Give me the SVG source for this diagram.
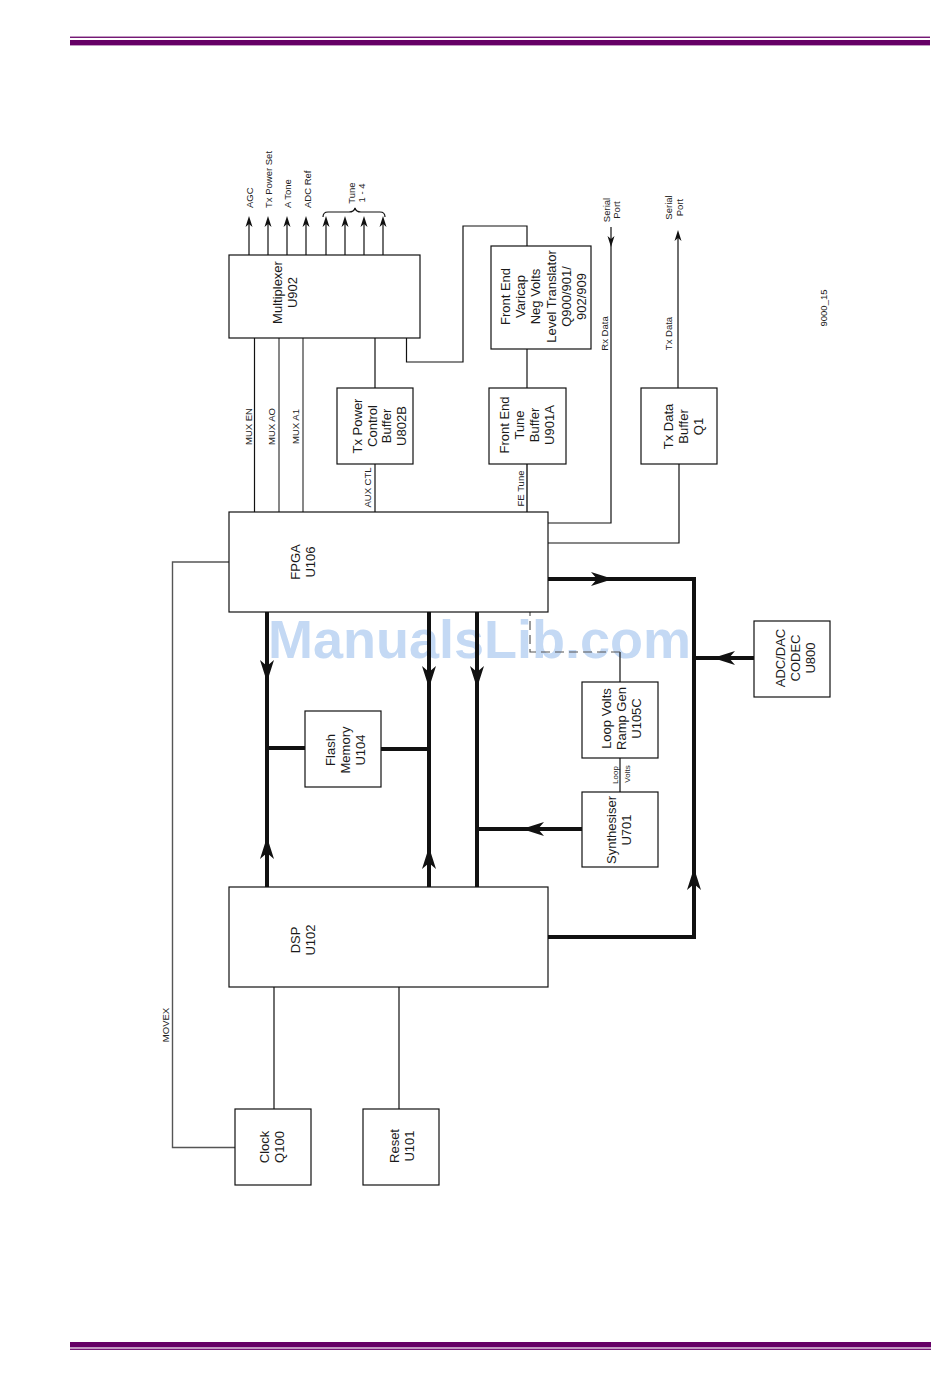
<svg xmlns="http://www.w3.org/2000/svg" xmlns:xlink="http://www.w3.org/1999/xlink" width="950" height="1388" viewBox="0 0 950 1388">
<style>
.box{fill:#fff;stroke:#111;stroke-width:1.2}
.t{font-family:"Liberation Sans",Arial,sans-serif;font-size:13px;fill:#1a1a1a}
.s{font-family:"Liberation Sans",Arial,sans-serif;font-size:9.5px;fill:#222}
.xs{font-family:"Liberation Sans",Arial,sans-serif;font-size:8px;fill:#222}
.thin{fill:none;stroke:#111;stroke-width:1.2}
.gray{fill:none;stroke:#555;stroke-width:1.4}
.thick{fill:none;stroke:#111;stroke-width:4}
.dash{fill:none;stroke:#555;stroke-width:1.2;stroke-dasharray:9,5}
.ah{fill:#111}
</style>
<defs>
<path id="big" d="M0,0 L-7,-22 L0,-16 L7,-22 Z"/>
<path id="sml" d="M0,0 L-3.5,-11 L0,-8 L3.5,-11 Z"/>
</defs>
<rect width="950" height="1388" fill="#fff"/>
<!-- page bars -->
<g id="page-bars" fill="#660066">
<rect x="70" y="36.6" width="860" height="1.3"/>
<rect x="70" y="40" width="860" height="5.4"/>
<rect x="70" y="1342" width="861" height="5.4"/>
<rect x="70" y="1348.6" width="861" height="1.3"/>
</g>
<text x="268" y="658" font-family="Liberation Sans,Arial,sans-serif" font-weight="bold" font-size="54" fill="#c4d9f4">ManualsLib.com</text>

<g id="connectors">
<!-- multiplexer outputs -->
<path class="thin" d="M249,255V224M268,255V224M287,255V224M306,255V224M326,255V224M345,255V224M364,255V224M383,255V224"/>
<g class="ah">
<use xlink:href="#sml" transform="translate(249,216) rotate(180)"/>
<use xlink:href="#sml" transform="translate(268,216) rotate(180)"/>
<use xlink:href="#sml" transform="translate(287,216) rotate(180)"/>
<use xlink:href="#sml" transform="translate(306,216) rotate(180)"/>
<use xlink:href="#sml" transform="translate(326,216) rotate(180)"/>
<use xlink:href="#sml" transform="translate(345,216) rotate(180)"/>
<use xlink:href="#sml" transform="translate(364,216) rotate(180)"/>
<use xlink:href="#sml" transform="translate(383,216) rotate(180)"/>
</g>
<path class="thin" d="M323,217 Q323,212 328,212 L349,212 Q354,212 355,208 Q356,212 361,212 L380,212 Q385,212 385,217"/>
<!-- mux control lines -->
<path class="thin" d="M254.5,338V512"/>
<path class="gray" d="M279,338V512M303,338V512"/>
<path class="thin" d="M375,338V388M375,464V512"/>
<path class="thin" d="M406.5,338V362H463V226H527V246"/>
<path class="thin" d="M527,349V388"/>
<path class="gray" style="stroke-width:1.9" d="M527,464V512"/>
<!-- serial -->
<path class="thin" d="M611,227V523H548"/>
<use class="ah" xlink:href="#sml" transform="translate(611,247)"/>
<path class="thin" d="M548,543H679V464M678,388V234"/>
<use class="ah" xlink:href="#sml" transform="translate(678,230) rotate(180)"/>
<!-- loop volts -->
<path class="thin" d="M620,758V792M620,682V652"/>
<path class="dash" d="M620,652H530V612"/>
<!-- dsp lower -->
<path class="thin" d="M274,987V1109M399,987V1109"/>
<path class="gray" d="M235,1147.5H172.5V562H229"/>
<!-- thick buses -->
<path class="thick" d="M267,612V887M429,612V887M477,612V887"/>
<path class="thick" d="M267,748H305M381,749H429"/>
<path class="thick" d="M582,829H477"/>
<path class="thick" d="M754,658H694"/>
<path class="thick" d="M548,579H694V937H548"/>
<g class="ah">
<use xlink:href="#big" transform="translate(267,682)"/>
<use xlink:href="#big" transform="translate(429,688)"/>
<use xlink:href="#big" transform="translate(477,688)"/>
<use xlink:href="#big" transform="translate(267,837) rotate(180)"/>
<use xlink:href="#big" transform="translate(429,847) rotate(180)"/>
<use xlink:href="#big" transform="translate(613,579) rotate(-90)"/>
<use xlink:href="#big" transform="translate(522,829) rotate(90)"/>
<use xlink:href="#big" transform="translate(713,658) rotate(90)"/>
<use xlink:href="#big" transform="translate(694,868) rotate(180)"/>
</g>
<!-- connector labels -->
<text class="s" text-anchor="start" transform="translate(253,208) rotate(-90)">AGC</text>
<text class="s" text-anchor="start" transform="translate(272,208) rotate(-90)">Tx Power Set</text>
<text class="s" text-anchor="start" transform="translate(290.5,208) rotate(-90)">A Tone</text>
<text class="s" text-anchor="start" transform="translate(310.5,208) rotate(-90)">ADC Ref</text>
<text class="s" text-anchor="middle" transform="translate(355,193) rotate(-90)"><tspan x="0" y="0">Tune</tspan><tspan x="0" y="10">1 - 4</tspan></text>
<text class="s" text-anchor="middle" transform="translate(251.7,426.5) rotate(-90)">MUX EN</text>
<text class="s" text-anchor="middle" transform="translate(275,426.5) rotate(-90)">MUX AO</text>
<text class="s" text-anchor="middle" transform="translate(299.4,426.5) rotate(-90)">MUX A1</text>
<text class="s" text-anchor="middle" transform="translate(371.4,487.5) rotate(-90)">AUX CTL</text>
<text class="s" text-anchor="middle" transform="translate(524,488.5) rotate(-90)">FE Tune</text>
<text class="s" text-anchor="middle" transform="translate(610,210) rotate(-90)"><tspan x="0" y="0">Serial</tspan><tspan x="0" y="10">Port</tspan></text>
<text class="s" text-anchor="middle" transform="translate(608.4,333.5) rotate(-90)">Rx Data</text>
<text class="s" text-anchor="middle" transform="translate(672,207.5) rotate(-90)"><tspan x="0" y="0">Serial</tspan><tspan x="0" y="11">Port</tspan></text>
<text class="s" text-anchor="middle" transform="translate(672,333.5) rotate(-90)">Tx Data</text>
<text class="xs" text-anchor="middle" transform="translate(618,775) rotate(-90)">Loop</text>
<text class="xs" text-anchor="middle" transform="translate(630,774) rotate(-90)">Volts</text>
<text class="s" text-anchor="middle" transform="translate(169.4,1025) rotate(-90)">MOVEX</text>
</g>

<g id="multiplexer"><rect class="box" x="229" y="255" width="191" height="83"/>
<text class="t" text-anchor="middle" transform="translate(282,292.5) rotate(-90)"><tspan x="0" y="0">Multiplexer</tspan><tspan x="0" y="14.5">U902</tspan></text></g>

<g id="fe-varicap"><rect class="box" x="491" y="246" width="100" height="103"/>
<text class="t" text-anchor="middle" transform="translate(509.7,296.5) rotate(-90)"><tspan x="0" y="0">Front End</tspan><tspan x="0" y="15.3">Varicap</tspan><tspan x="0" y="30.6">Neg Volts</tspan><tspan x="0" y="45.9">Level Translator</tspan><tspan x="0" y="61.2">Q900/901/</tspan><tspan x="0" y="76.5">902/909</tspan></text></g>

<g id="fe-tune-buffer"><rect class="box" x="489" y="388" width="77" height="76"/>
<text class="t" text-anchor="middle" transform="translate(508.7,425) rotate(-90)"><tspan x="0" y="0">Front End</tspan><tspan x="0" y="15">Tune</tspan><tspan x="0" y="30">Buffer</tspan><tspan x="0" y="45">U901A</tspan></text></g>

<g id="tx-power-buffer"><rect class="box" x="337" y="388" width="76" height="76"/>
<text class="t" text-anchor="middle" transform="translate(362,426) rotate(-90)"><tspan x="0" y="0">Tx Power</tspan><tspan x="0" y="14.7">Control</tspan><tspan x="0" y="29.4">Buffer</tspan><tspan x="0" y="44.1">U802B</tspan></text></g>

<g id="tx-data-buffer"><rect class="box" x="641" y="388" width="76" height="76"/>
<text class="t" text-anchor="middle" transform="translate(672.7,426.5) rotate(-90)"><tspan x="0" y="0">Tx Data</tspan><tspan x="0" y="15">Buffer</tspan><tspan x="0" y="30">Q1</tspan></text></g>

<g id="fpga"><rect class="box" x="229" y="512" width="319" height="100"/>
<text class="t" text-anchor="middle" transform="translate(299.7,562) rotate(-90)"><tspan x="0" y="0">FPGA</tspan><tspan x="0" y="15">U106</tspan></text></g>

<g id="flash"><rect class="box" x="305" y="711" width="76" height="76"/>
<text class="t" text-anchor="middle" transform="translate(334.7,750) rotate(-90)"><tspan x="0" y="0">Flash</tspan><tspan x="0" y="15">Memory</tspan><tspan x="0" y="30">U104</tspan></text></g>

<g id="loop-volts"><rect class="box" x="582" y="682" width="76" height="76"/>
<text class="t" text-anchor="middle" transform="translate(611.3,718.5) rotate(-90)"><tspan x="0" y="0">Loop Volts</tspan><tspan x="0" y="15">Ramp Gen</tspan><tspan x="0" y="30">U105C</tspan></text></g>

<g id="synthesiser"><rect class="box" x="582" y="792" width="76" height="75"/>
<text class="t" text-anchor="middle" transform="translate(616.3,830) rotate(-90)"><tspan x="0" y="0">Synthesiser</tspan><tspan x="0" y="15">U701</tspan></text></g>

<g id="codec"><rect class="box" x="754" y="621" width="76" height="76"/>
<text class="t" text-anchor="middle" transform="translate(784.7,658) rotate(-90)"><tspan x="0" y="0">ADC/DAC</tspan><tspan x="0" y="15">CODEC</tspan><tspan x="0" y="30">U800</tspan></text></g>

<g id="dsp"><rect class="box" x="229" y="887" width="319" height="100"/>
<text class="t" text-anchor="middle" transform="translate(299.7,940) rotate(-90)"><tspan x="0" y="0">DSP</tspan><tspan x="0" y="15">U102</tspan></text></g>

<g id="clock"><rect class="box" x="235" y="1109" width="76" height="76"/>
<text class="t" text-anchor="middle" transform="translate(268.7,1147) rotate(-90)"><tspan x="0" y="0">Clock</tspan><tspan x="0" y="15">Q100</tspan></text></g>

<g id="reset"><rect class="box" x="363" y="1109" width="76" height="76"/>
<text class="t" text-anchor="middle" transform="translate(398.7,1146) rotate(-90)"><tspan x="0" y="0">Reset</tspan><tspan x="0" y="15">U101</tspan></text></g>

<text class="s" fill="#444" text-anchor="middle" transform="translate(827.4,308) rotate(-90)">9000_15</text>
</svg>
